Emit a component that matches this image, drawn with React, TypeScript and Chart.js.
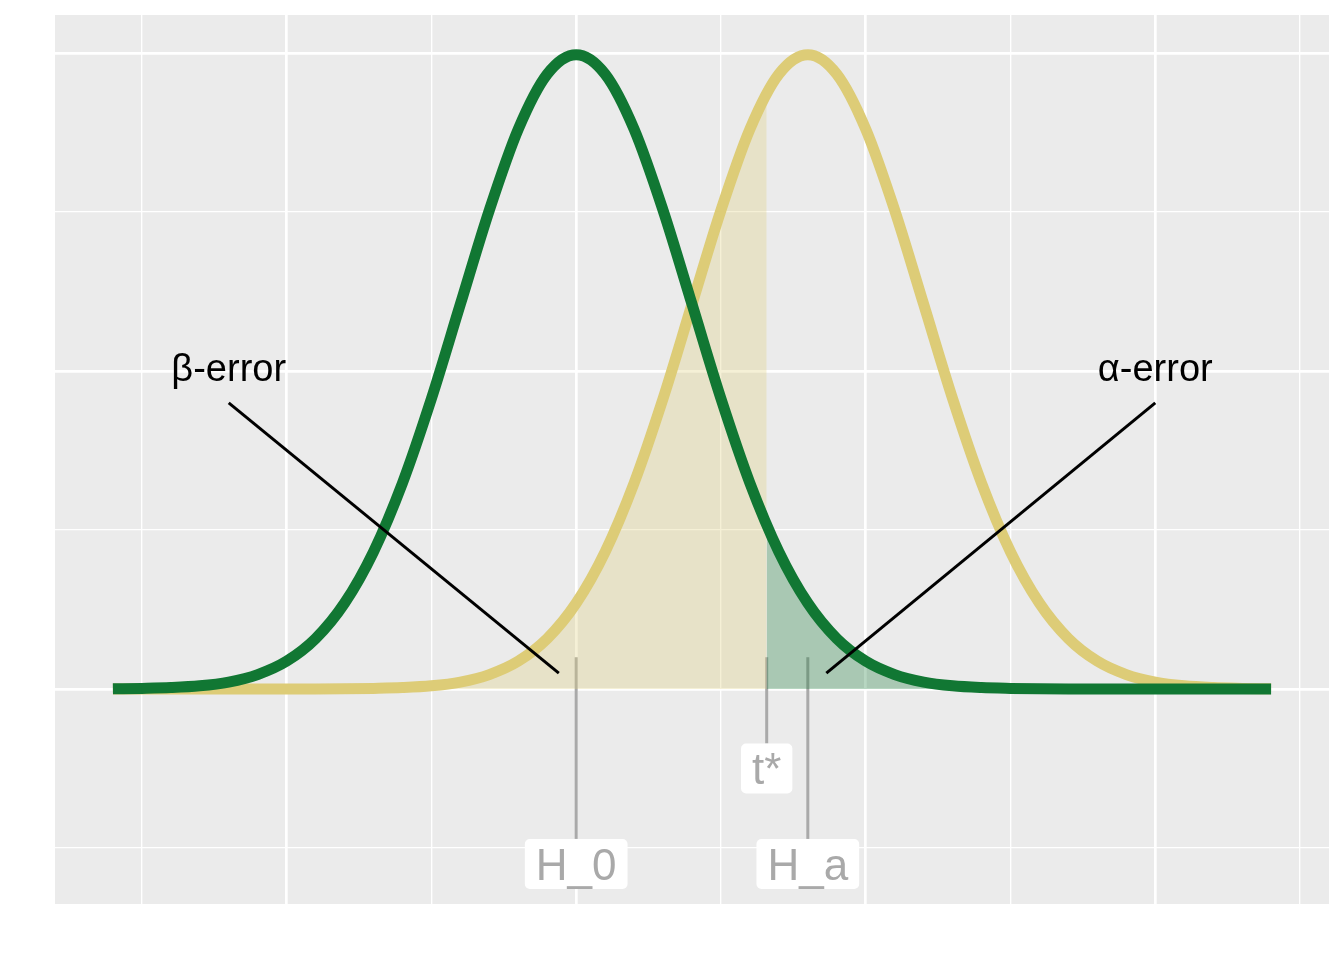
import React, { useEffect, useRef } from "react";
import { Chart, registerables } from "chart.js";

Chart.register(...registerables);

// ---- data ----
const xValues = [
  -4, -3.75, -3.5, -3.25, -3, -2.75, -2.5, -2.25, -2, -1.75, -1.5, -1.25, -1, -0.75, -0.5, -0.25,
  0, 0.25, 0.5, 0.75, 1, 1.25, 1.5, 1.75, 2, 2.25, 2.5, 2.75, 3, 3.25, 3.5, 3.75,
  4, 4.25, 4.5, 4.75, 5, 5.25, 5.5, 5.75, 6,
];
// density under H_0 (green)
const h0Density = [
  0.0001, 0.0004, 0.0009, 0.002, 0.0044, 0.0091, 0.0175, 0.0317, 0.054, 0.0863, 0.1295, 0.1826, 0.242, 0.3011, 0.3521, 0.3867,
  0.3989, 0.3867, 0.3521, 0.3011, 0.242, 0.1826, 0.1295, 0.0863, 0.054, 0.0317, 0.0175, 0.0091, 0.0044, 0.002, 0.0009, 0.0004,
  0.0001, 0, 0, 0, 0, 0, 0, 0, 0,
];
// density under H_a (sand)
const haDensity = [
  0, 0, 0, 0, 0, 0, 0, 0, 0.0001, 0.0004, 0.0009, 0.002, 0.0044, 0.0091, 0.0175, 0.0317,
  0.054, 0.0863, 0.1295, 0.1826, 0.242, 0.3011, 0.3521, 0.3867, 0.3989, 0.3867, 0.3521, 0.3011, 0.242, 0.1826, 0.1295, 0.0863,
  0.054, 0.0317, 0.0175, 0.0091, 0.0044, 0.002, 0.0009, 0.0004, 0.0001,
];
const tStar = 1.645;
const haAtTStar = 0.3745;
const h0AtTStar = 0.1031;

const markerLabels = ["H_0", "t*", "H_a"];
const markerX = [0, 1.645, 2];
const markerLabelY = [-0.11, -0.05, -0.11];
const markerSegmentTopY = 0.02;

const errorLabels = ["β-error", "α-error"];
const errorLabelX = [-3, 5];
const errorLabelY = [0.2, 0.2];
const errorLineStartY = [0.18, 0.18];
const errorLineEndX = [-0.15, 2.16];
const errorLineEndY = [0.01, 0.01];

const xGridTicks = [-3.75, -2.5, -1.25, 0, 1.25, 2.5, 3.75, 5, 6.25];
const yGridTicks = [-0.1, 0, 0.1, 0.2, 0.3, 0.4];
const yMajor = [0, 0.2, 0.4];

const GREEN = "#117733";
const SAND = "#DDCC77";
const FONT = "'Liberation Sans', Arial, sans-serif";

const pts = (xs: number[], ys: number[]) => xs.map((x, i) => ({ x, y: ys[i] }));

export default function App() {
  const ref = useRef<HTMLCanvasElement | null>(null);

  useEffect(() => {
    if (!ref.current) return;

    const betaIdx = xValues.filter((x) => x <= tStar).length;
    const betaFill = [...pts(xValues.slice(0, betaIdx), haDensity.slice(0, betaIdx)), { x: tStar, y: haAtTStar }];
    const alphaFill = [{ x: tStar, y: h0AtTStar }, ...pts(xValues.slice(betaIdx), h0Density.slice(betaIdx))];

    const bgPlugin = {
      id: "panelBg",
      beforeDraw(chart: any) {
        const { ctx, chartArea: a } = chart;
        ctx.save();
        ctx.fillStyle = "#EBEBEB";
        ctx.fillRect(a.left, a.top, a.right - a.left, a.bottom - a.top);
        ctx.restore();
      },
    };

    const labelFs = 44;
    const boxH = 50;
    const padX = 11;

    const segPlugin = {
      id: "markerSegments",
      beforeDatasetsDraw(chart: any) {
        const { ctx, scales } = chart;
        const xs = scales.x, ys = scales.y;
        ctx.save();
        ctx.strokeStyle = "#A9A9A9";
        ctx.lineWidth = 3;
        markerX.forEach((mx, i) => {
          const px = xs.getPixelForValue(mx);
          const top = ys.getPixelForValue(markerSegmentTopY);
          const bottom = ys.getPixelForValue(markerLabelY[i]) - boxH / 2;
          ctx.beginPath();
          ctx.moveTo(px, top);
          ctx.lineTo(px, bottom);
          ctx.stroke();
        });
        ctx.restore();
      },
    };

    const annPlugin = {
      id: "annotations",
      afterDatasetsDraw(chart: any) {
        const { ctx, scales } = chart;
        const xs = scales.x, ys = scales.y;
        ctx.save();
        // error annotations
        ctx.strokeStyle = "#000";
        ctx.lineWidth = 3;
        ctx.lineCap = "butt";
        errorLabels.forEach((lab, i) => {
          const x0 = xs.getPixelForValue(errorLabelX[i]);
          const y0 = ys.getPixelForValue(errorLineStartY[i]);
          const x1 = xs.getPixelForValue(errorLineEndX[i]);
          const y1 = ys.getPixelForValue(errorLineEndY[i]);
          ctx.beginPath();
          ctx.moveTo(x0, y0);
          ctx.lineTo(x1, y1);
          ctx.stroke();
          const fs = 38;
          ctx.font = `${fs}px ${FONT}`;
          ctx.fillStyle = "#000";
          ctx.textAlign = "center";
          ctx.textBaseline = "alphabetic";
          const ty = ys.getPixelForValue(errorLabelY[i]);
          ctx.fillText(lab, x0, ty + 0.27 * fs);
        });
        // marker labels
        ctx.font = `${labelFs}px ${FONT}`;
        markerLabels.forEach((lab, i) => {
          const px = xs.getPixelForValue(markerX[i]);
          const py = ys.getPixelForValue(markerLabelY[i]);
          const w = ctx.measureText(lab).width + 2 * padX;
          ctx.fillStyle = "#FFFFFF";
          ctx.beginPath();
          (ctx as any).roundRect(px - w / 2, py - boxH / 2, w, boxH, 5);
          ctx.fill();
          ctx.fillStyle = "#A9A9A9";
          ctx.textAlign = "center";
          ctx.textBaseline = "alphabetic";
          ctx.fillText(lab, px, py + 0.716 * labelFs / 2);
        });
        ctx.restore();
      },
    };

    const chart = new Chart(ref.current, {
      type: "line",
      data: {
        datasets: [
          {
            label: "H_0",
            data: pts(xValues, h0Density),
            borderColor: GREEN,
            borderWidth: 11,
            pointRadius: 0,
            fill: false,
            cubicInterpolationMode: "monotone",
            borderCapStyle: "butt",
          },
          {
            label: "H_a",
            data: pts(xValues, haDensity),
            borderColor: SAND,
            borderWidth: 11,
            pointRadius: 0,
            fill: false,
            cubicInterpolationMode: "monotone",
            borderCapStyle: "butt",
          },
          {
            label: "alpha",
            data: alphaFill,
            borderWidth: 0,
            borderColor: "rgba(0,0,0,0)",
            backgroundColor: "rgba(17,119,51,0.3)",
            pointRadius: 0,
            fill: "origin",
            cubicInterpolationMode: "monotone",
          },
          {
            label: "beta",
            data: betaFill,
            borderWidth: 0,
            borderColor: "rgba(0,0,0,0)",
            backgroundColor: "rgba(221,204,119,0.3)",
            pointRadius: 0,
            fill: "origin",
            cubicInterpolationMode: "monotone",
          },
        ],
      } as any,
      options: {
        animation: false,
        responsive: false,
        parsing: false,
        events: [],
        layout: { padding: { left: 55, right: 15, top: 15, bottom: 56 } },
        plugins: { legend: { display: false }, tooltip: { enabled: false } },
        scales: {
          x: {
            type: "linear",
            min: -4.5,
            max: 6.5,
            ticks: { display: false },
            border: { display: false },
            grid: {
              drawTicks: false,
              tickLength: 0,
              color: "#FFFFFF",
              lineWidth: (c: any) => (c.tick && Math.abs(c.tick.value / 2.5 - Math.round(c.tick.value / 2.5)) < 1e-6 ? 2.7 : 1.35),
            },
            afterBuildTicks: (s: any) => {
              s.ticks = xGridTicks.map((v) => ({ value: v }));
            },
          },
          y: {
            type: "linear",
            min: -0.1352,
            max: 0.4239,
            ticks: { display: false },
            border: { display: false },
            grid: {
              drawTicks: false,
              tickLength: 0,
              color: "#FFFFFF",
              lineWidth: (c: any) => (c.tick && yMajor.some((m) => Math.abs(m - c.tick.value) < 1e-6) ? 2.7 : 1.35),
            },
            afterBuildTicks: (s: any) => {
              s.ticks = yGridTicks.map((v) => ({ value: v }));
            },
          },
        },
      } as any,
      plugins: [bgPlugin, segPlugin, annPlugin],
    });

    return () => chart.destroy();
  }, []);

  return (
    <div style={{ position: "absolute", left: 0, top: 0, width: 1344, height: 960, background: "#FFFFFF" }}>
      <canvas ref={ref} width={1344} height={960} style={{ display: "block" }} />
    </div>
  );
}
